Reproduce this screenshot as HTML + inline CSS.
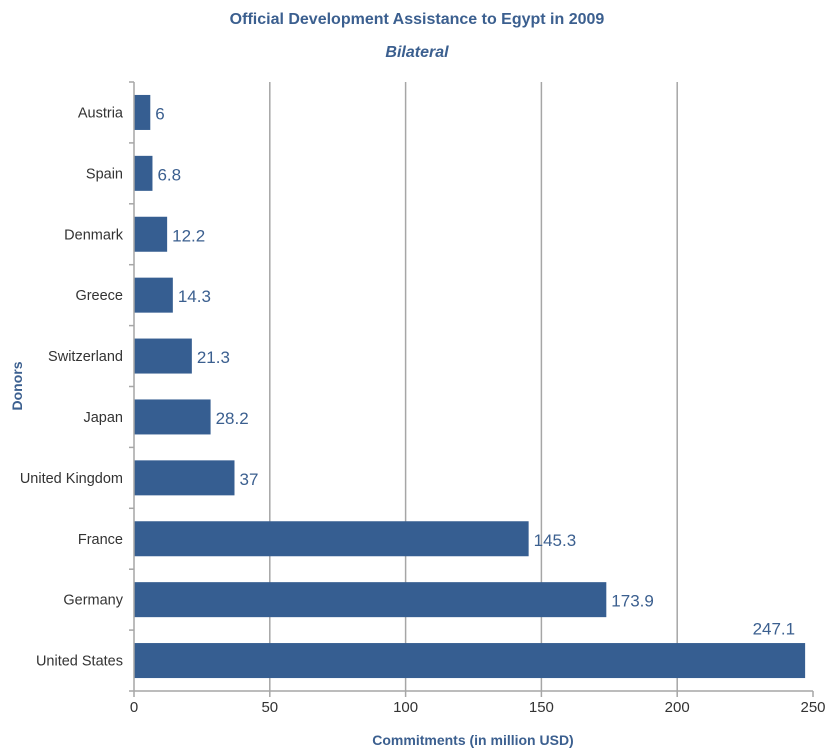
<!DOCTYPE html>
<html><head><meta charset="utf-8"><style>
body{margin:0;background:#fff;}
svg text{font-family:"Liberation Sans Narrow","Liberation Sans",sans-serif;}
</style></head><body>
<svg id="chart" width="834" height="751" xmlns="http://www.w3.org/2000/svg">
<text x="417" y="24" text-anchor="middle" font-size="16" font-weight="bold" fill="#3b5f8f">Official Development Assistance to Egypt in 2009</text>
<text x="417" y="57" text-anchor="middle" font-size="16" font-weight="bold" font-style="italic" fill="#3b5f8f">Bilateral</text>
<text x="0" y="0" transform="translate(22,386) rotate(-90)" text-anchor="middle" font-size="14" font-weight="bold" fill="#3b5f8f">Donors</text>
<text x="473" y="745" text-anchor="middle" font-size="14" font-weight="bold" fill="#3b5f8f">Commitments (in million USD)</text>
<g id="grid"></g><g id="bars"></g><g id="axes"></g>
</svg>
<script>
const categories=["Austria","Spain","Denmark","Greece","Switzerland","Japan","United Kingdom","France","Germany","United States"];
const values=[6,6.8,12.2,14.3,21.3,28.2,37,145.3,173.9,247.1];
const valueLabels=["6","6.8","12.2","14.3","21.3","28.2","37","145.3","173.9","247.1"];
const ticks=[0,50,100,150,200,250];
const NS="http://www.w3.org/2000/svg";
const x0=134,x1=813,yTop=82,yBottom=691,xmax=250;
const xs=v=>x0+(v/xmax)*(x1-x0);
const band=(yBottom-yTop)/categories.length;
const yc=i=>yTop+band*(i+0.5);
function mk(tag,attrs,parent){const e=document.createElementNS(NS,tag);for(const k in attrs)e.setAttribute(k,attrs[k]);document.getElementById(parent).appendChild(e);return e;}
ticks.forEach(t=>{
 if(t>0&&t<xmax){const g=mk('line',{x1:xs(t),x2:xs(t),y1:yTop,y2:yBottom,stroke:'#a6a6a6','stroke-width':1.5},'grid');
 
 }
 const tk=mk('line',{x1:xs(t),x2:xs(t),y1:yBottom,y2:yBottom+6,stroke:'#a6a6a6','stroke-width':1.5},'axes');
 
 
 const tl=mk('text',{x:xs(t),y:yBottom+21,'text-anchor':'middle','font-size':15,fill:'#333'},'axes');
 tl.textContent=t;
 
 
});
categories.forEach((c,i)=>{
 const y=yc(i),v=values[i];
 const b=mk('rect',{x:x0,y:y-17.5,width:xs(v)-x0,height:35,fill:'#365e91'},'bars');
 
 
 const last=i===categories.length-1&&xs(v)>x1-60;
 const vl=mk('text',{x:last?xs(v)-10:xs(v)+5,y:last?y-26:y+7,'text-anchor':last?'end':'start','font-size':17,fill:'#3b5f8f'},'bars');
 vl.textContent=valueLabels[i];
 
 
 const cl=mk('text',{x:x0-11,y:y+5,'text-anchor':'end','font-size':14.5,fill:'#333'},'axes');
 cl.textContent=c;
 
 
});
for(let i=0;i<=categories.length;i++){
 const t=mk('line',{x1:x0-5,x2:x0,y1:yTop+band*i,y2:yTop+band*i,stroke:'#a6a6a6','stroke-width':1.5},'axes');
 
 
}
const ya=mk('line',{x1:x0,x2:x0,y1:yTop,y2:yBottom,stroke:'#a6a6a6','stroke-width':1.5},'axes');


const xa=mk('line',{x1:x0,x2:x1,y1:yBottom,y2:yBottom,stroke:'#a6a6a6','stroke-width':1.5},'axes');


</script>
</body></html>
